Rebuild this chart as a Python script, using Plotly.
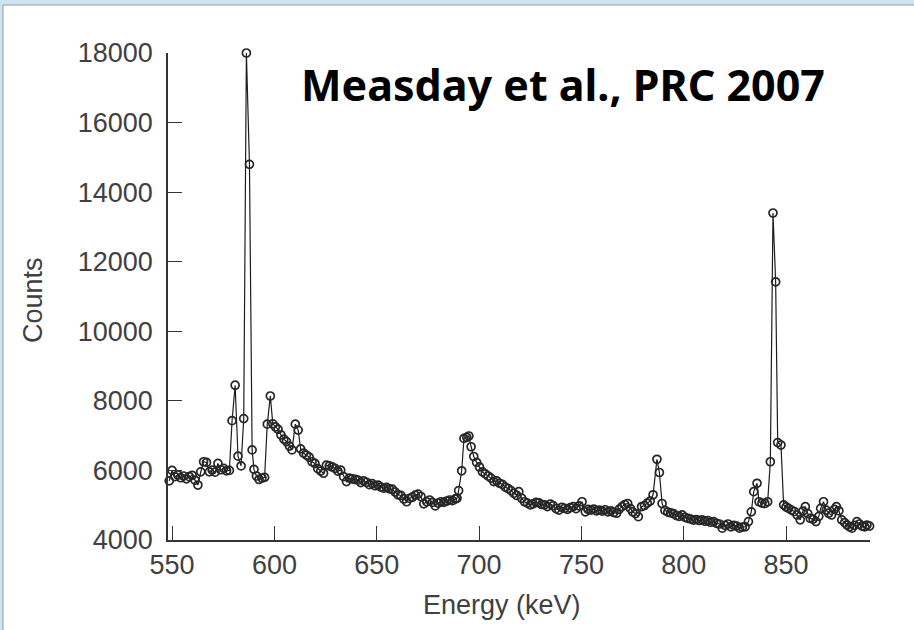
import plotly.graph_objects as go

# Gamma-ray spectrum: channel energies (keV) and counts per channel
energy_kev = [
    548.6, 550.0, 551.4, 552.8, 554.2, 555.6, 557.0, 558.4, 559.8, 561.2,
    562.6, 564.0, 565.4, 566.8, 568.2, 569.6, 571.0, 572.4, 573.8, 575.2,
    576.6, 578.0, 579.3, 580.8, 582.2, 583.7, 585.0, 586.3, 587.8, 589.1,
    590.0, 591.2, 592.5, 593.9, 595.2, 596.5, 598.0, 599.2, 600.5, 601.8,
    603.2, 604.6, 605.9, 607.3, 608.6, 610.2, 611.6, 612.8, 614.2, 615.6,
    617.0, 618.4, 619.8, 621.2, 622.6, 624.0, 625.4, 626.8, 628.2, 629.6,
    631.0, 632.4, 633.8, 635.2, 636.6, 638.0, 639.4, 640.8, 642.2, 643.6,
    645.0, 646.4, 647.8, 649.2, 650.6, 652.0, 653.4, 654.8, 656.2, 657.6,
    659.0, 660.4, 661.8, 663.2, 664.6, 666.0, 667.4, 668.8, 670.2, 671.6,
    673.0, 674.4, 675.8, 677.2, 678.6, 680.0, 681.4, 682.8, 684.2, 685.6,
    687.0, 688.4, 689.2, 690.0, 691.5, 692.6, 694.0, 695.0, 696.1, 697.4,
    698.8, 700.2, 701.6, 703.0, 704.4, 705.8, 707.2, 708.6, 710.0, 711.4,
    712.8, 714.2, 715.6, 717.0, 718.4, 719.4, 720.8, 722.2, 723.6, 725.0,
    726.4, 727.8, 729.2, 730.6, 732.0, 733.4, 734.8, 736.2, 737.6, 739.0,
    740.4, 741.8, 743.2, 744.6, 746.0, 747.4, 748.8, 750.3, 751.9, 753.2,
    754.6, 756.0, 757.4, 758.8, 760.2, 761.6, 763.0, 764.4, 765.8, 767.2,
    768.4, 769.8, 771.2, 772.6, 774.0, 775.0, 776.4, 777.8, 779.4, 780.8,
    782.2, 783.6, 785.0, 786.9, 788.1, 789.4, 790.8, 792.2, 793.6, 795.0,
    796.4, 797.8, 799.2, 800.6, 802.0, 803.4, 804.8, 806.2, 807.6, 809.0,
    810.4, 811.8, 813.2, 814.6, 816.0, 817.4, 818.8, 820.2, 821.6, 823.0,
    824.4, 825.8, 827.2, 828.6, 830.0, 831.6, 833.0, 834.2, 835.8, 836.8,
    838.2, 839.6, 841.0, 842.3, 843.6, 844.9, 845.9, 847.5, 848.8, 850.0,
    851.2, 852.6, 854.0, 855.4, 856.9, 858.2, 859.4, 860.6, 861.8, 863.2,
    864.6, 866.0, 866.9, 868.3, 869.6, 870.8, 872.2, 873.6, 874.6, 875.8,
    877.2, 878.6, 879.8, 881.0, 882.2, 883.4, 884.6, 885.8, 887.1, 888.4,
    889.5, 890.8,
]

counts = [
    5700, 6000, 5820, 5870, 5790, 5840, 5760, 5820, 5860, 5720,
    5580, 5960, 6250, 6230, 5960, 6010, 5950, 6200, 6020, 6060,
    5990, 6000, 7430, 8450, 6410, 6130, 7490, 18000, 14800, 6590,
    6030, 5840, 5740, 5780, 5800, 7330, 8140, 7340, 7250, 7180,
    7020, 6900, 6830, 6700, 6590, 7330, 7160, 6620, 6500, 6440,
    6380, 6250, 6200, 6050, 5980, 5920, 6150, 6130, 6100, 6060,
    5980, 6010, 5820, 5680, 5780, 5760, 5740, 5720, 5650, 5700,
    5660, 5590, 5620, 5560, 5580, 5520, 5490, 5510, 5470, 5460,
    5380, 5300, 5280, 5180, 5100, 5200, 5230, 5290, 5320, 5250,
    5040, 5100, 5150, 5080, 4980, 5060, 5100, 5080, 5120, 5150,
    5130, 5180, 5200, 5420, 5990, 6920, 6950, 6990, 6680, 6400,
    6230, 6100, 5960, 5900, 5840, 5780, 5680, 5700, 5630, 5600,
    5520, 5480, 5420, 5340, 5280, 5390, 5200, 5100, 5060, 5010,
    5040, 5080, 5070, 5020, 5010, 4960, 5030, 4990, 4900, 4860,
    4940, 4910, 4880, 4930, 4960, 4900, 4980, 5100, 4810, 4880,
    4860, 4890, 4840, 4860, 4830, 4870, 4810, 4840, 4790, 4770,
    4880, 4960, 5020, 5050, 4900, 4810, 4760, 4670, 4960, 4990,
    5060, 5120, 5300, 6320, 5940, 5050, 4850, 4800, 4780, 4760,
    4700, 4680, 4720, 4650, 4620, 4600, 4570, 4590, 4560, 4580,
    4540, 4560, 4510, 4530, 4480, 4460, 4340, 4420, 4460, 4380,
    4420, 4400, 4340, 4370, 4380, 4530, 4810, 5390, 5630, 5100,
    5060, 5050, 5100, 6250, 13400, 11420, 6800, 6730, 5010, 4950,
    4910, 4860, 4820, 4720, 4580, 4830, 4960, 4760, 4620, 4600,
    4530, 4680, 4910, 5100, 4860, 4770, 4720, 4880, 4960, 4840,
    4580, 4500, 4430, 4380, 4340, 4420, 4530, 4460, 4400, 4380,
    4430, 4400,
]

x_ticks = [550, 600, 650, 700, 750, 800, 850]
y_ticks = [4000, 6000, 8000, 10000, 12000, 14000, 16000, 18000]

W, H = 914, 630
L, R, T, B = 168, 44, 53, 90
PW, PH = W - L - R, H - T - B


def px(xp):
    return (xp - L) / PW


def py(yp):
    return (H - B - yp) / PH


fig = go.Figure()
fig.add_trace(go.Scatter(
    x=energy_kev, y=counts, mode="lines+markers",
    line=dict(color="#1e1e1e", width=1.2),
    marker=dict(symbol="circle-open", size=8, color="#262626",
                line=dict(width=1.7, color="#262626")),
    cliponaxis=False, showlegend=False,
))

tick_font = dict(family="Liberation Sans, Arial, sans-serif", size=27, color="#404040")

fig.update_xaxes(
    range=[548, 891], tickvals=x_ticks, ticks="inside", ticklen=14,
    tickwidth=1.4, tickcolor="#333333", showline=True, linecolor="#333333",
    linewidth=1.5, showgrid=False, zeroline=False, tickfont=tick_font,
    ticklabelstandoff=0,
)
fig.update_yaxes(
    range=[4000, 18000], tickvals=y_ticks, tickformat="d", ticks="inside",
    ticklen=14, tickwidth=1.4, tickcolor="#333333", showline=True,
    linecolor="#333333", linewidth=1.5, showgrid=False, zeroline=False,
    tickfont=tick_font, ticklabelstandoff=8,
)

fig.update_layout(
    width=W, height=H,
    margin=dict(l=L, r=R, t=T, b=B),
    paper_bgcolor="#cfe4f3", plot_bgcolor="white",
    shapes=[dict(
        type="rect", xref="paper", yref="paper", layer="below",
        x0=px(3), x1=px(915), y0=py(631), y1=py(5),
        fillcolor="white", line=dict(color="#9a9a9a", width=1),
    )],
    annotations=[
        dict(text="Measday et al., PRC 2007", xref="paper", yref="paper",
             x=px(299), y=py(84), xanchor="left", yanchor="middle",
             showarrow=False,
             font=dict(family="Noto Sans, sans-serif", size=43, color="black",
                       weight="bold")),
        dict(text="Energy (keV)", xref="paper", yref="paper",
             x=px(502), y=py(605), xanchor="center", yanchor="middle",
             showarrow=False, font=tick_font),
        dict(text="Counts", xref="paper", yref="paper",
             x=px(33), y=py(300), xanchor="center", yanchor="middle",
             showarrow=False, textangle=-90, font=tick_font),
    ],
)

fig.write_html("out.html")
